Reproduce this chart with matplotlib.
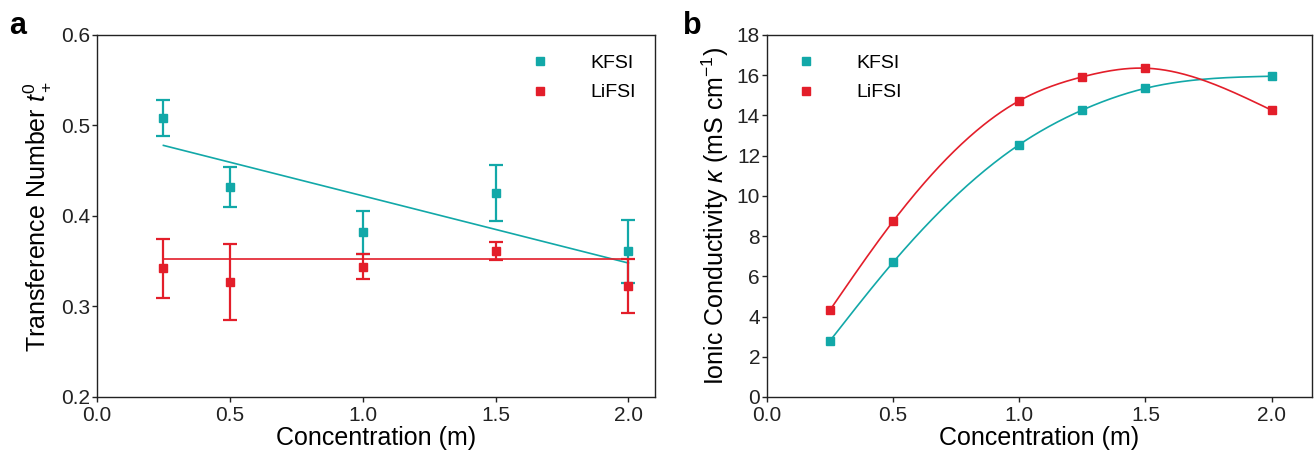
import numpy as np
import matplotlib
matplotlib.use('Agg')
import matplotlib.pyplot as plt

plt.rcParams['font.family'] = ['Liberation Sans', 'DejaVu Sans']
plt.rcParams['mathtext.fontset'] = 'custom'
plt.rcParams['mathtext.rm'] = 'Liberation Sans'
plt.rcParams['mathtext.it'] = 'Liberation Sans:italic'

# panel a: transference number
conc_a = [0.25, 0.5, 1.0, 1.5, 2.0]
kfsi_t = [0.508, 0.432, 0.382, 0.425, 0.361]
kfsi_err = [0.020, 0.022, 0.024, 0.031, 0.035]
lifsi_t = [0.342, 0.327, 0.344, 0.361, 0.323]
lifsi_err = [0.033, 0.042, 0.014, 0.010, 0.030]
fit_x = [0.25, 2.0]
kfsi_fit = [0.478, 0.348]
lifsi_fit = [0.352, 0.352]

# panel b: ionic conductivity
conc_b = [0.25, 0.5, 1.0, 1.25, 1.5, 2.0]
kfsi_k = [2.8, 6.7, 12.55, 14.27, 15.35, 15.95]
lifsi_k = [4.33, 8.74, 14.73, 15.92, 16.35, 14.26]

teal = '#12A8A8'
red = '#E31E2A'


def natural_spline(x, y, xs):
    x = np.asarray(x, float)
    y = np.asarray(y, float)
    n = len(x)
    h = np.diff(x)
    A = np.zeros((n, n))
    b = np.zeros(n)
    A[0, 0] = A[-1, -1] = 1
    for i in range(1, n - 1):
        A[i, i - 1] = h[i - 1]
        A[i, i] = 2 * (h[i - 1] + h[i])
        A[i, i + 1] = h[i]
        b[i] = 3 * ((y[i + 1] - y[i]) / h[i] - (y[i] - y[i - 1]) / h[i - 1])
    c = np.linalg.solve(A, b)
    out = np.empty_like(xs)
    for j, xv in enumerate(xs):
        i = min(max(np.searchsorted(x, xv) - 1, 0), n - 2)
        dx = xv - x[i]
        bi = (y[i + 1] - y[i]) / h[i] - h[i] * (2 * c[i] + c[i + 1]) / 3
        di = (c[i + 1] - c[i]) / (3 * h[i])
        out[j] = y[i] + bi * dx + c[i] * dx ** 2 + di * dx ** 3
    return out


fig = plt.figure(figsize=(13.14, 4.55), dpi=100)
ax1 = fig.add_axes([0.0738, 0.1275, 0.4247, 0.7956])
ax2 = fig.add_axes([0.5837, 0.1275, 0.4148, 0.7956])

# panel a
ax1.plot(fit_x, kfsi_fit, color=teal, lw=1.2)
ax1.plot(fit_x, lifsi_fit, color=red, lw=1.2)
ax1.errorbar(conc_a, kfsi_t, yerr=kfsi_err, fmt='s', color=teal, ms=6,
             capsize=5, elinewidth=1.6, capthick=1.6, label='KFSI')
ax1.errorbar(conc_a, lifsi_t, yerr=lifsi_err, fmt='s', color=red, ms=6,
             capsize=5, elinewidth=1.6, capthick=1.6, label='LiFSI')
ax1.set_xlim(0, 2.1)
ax1.set_ylim(0.2, 0.6)
ax1.set_xticks([0.0, 0.5, 1.0, 1.5, 2.0])
ax1.set_yticks([0.2, 0.3, 0.4, 0.5, 0.6])
ax1.set_xlabel('Concentration (m)', fontsize=18, labelpad=1)
ax1.set_ylabel('Transference Number $t_+^0$', fontsize=18, labelpad=6)
h, l = ax1.get_legend_handles_labels()
hh = [plt.Line2D([], [], ls='none', marker='s', color=c, ms=6) for c in (teal, red)]
ax1.legend(hh, l, loc='upper right', frameon=False, fontsize=14,
           handletextpad=1.6, borderaxespad=0.6, labelspacing=0.6)

# panel b
xs = np.linspace(conc_b[0], conc_b[-1], 300)
ax2.plot(xs, natural_spline(conc_b, kfsi_k, xs), color=teal, lw=1.2)
ax2.plot(xs, natural_spline(conc_b, lifsi_k, xs), color=red, lw=1.2)
ax2.plot(conc_b, kfsi_k, 's', color=teal, ms=6, label='KFSI')
ax2.plot(conc_b, lifsi_k, 's', color=red, ms=6, label='LiFSI')
ax2.set_xlim(0, 2.16)
ax2.set_ylim(0, 18)
ax2.set_xticks([0.0, 0.5, 1.0, 1.5, 2.0])
ax2.set_yticks(range(0, 19, 2))
ax2.set_xlabel('Concentration (m)', fontsize=18, labelpad=1)
ax2.set_ylabel('Ionic Conductivity $\\kappa$ (mS cm$^{-1}$)', fontsize=18, labelpad=4)
ax2.legend(loc='upper left', frameon=False, fontsize=14,
           handletextpad=1.6, borderaxespad=0.6, labelspacing=0.6)

for ax in (ax1, ax2):
    ax.tick_params(direction='out', length=3.5, width=1, labelsize=15,
                   pad=1.5, colors='#222222')
    ax.tick_params(axis='x', pad=3)
    for s in ax.spines.values():
        s.set_linewidth(1.0)
        s.set_color('#222222')

fig.text(0.007, 0.925, 'a', fontsize=22, fontweight='bold')
fig.text(0.52, 0.925, 'b', fontsize=22, fontweight='bold')

fig.savefig('out.png', dpi=100)
